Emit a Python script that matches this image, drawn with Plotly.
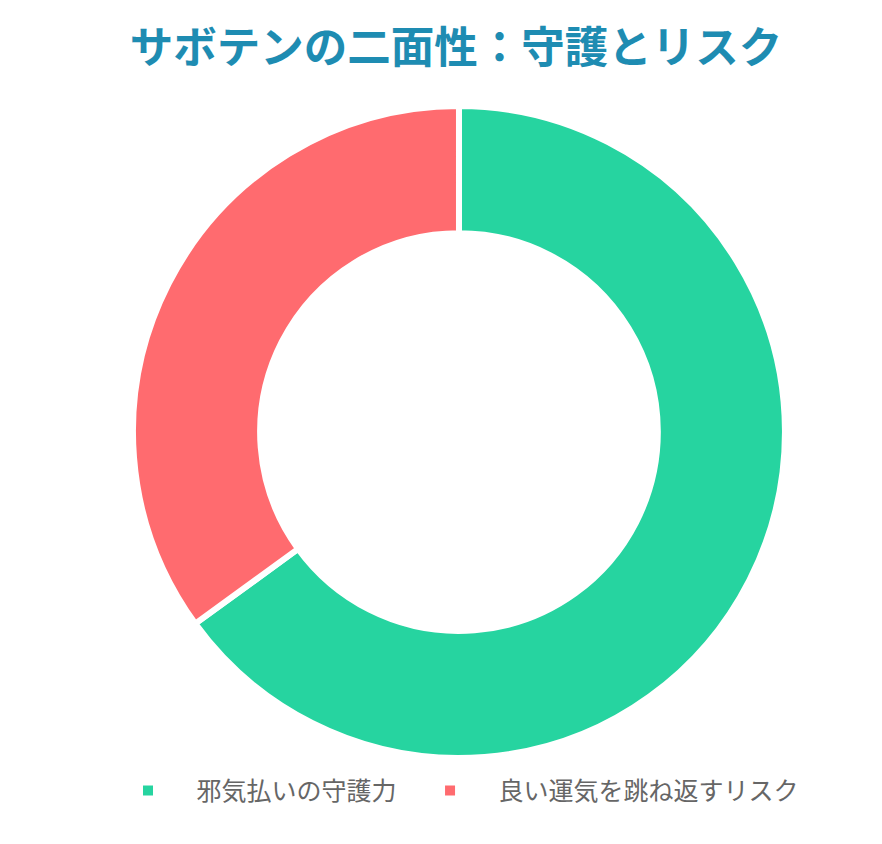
import plotly.graph_objects as go

labels = ["邪気払いの守護力", "良い運気を跳ね返すリスク"]
values = [65, 35]
colors = ["#26d4a0", "#ff6b6f"]

fig = go.Figure(go.Pie(
    labels=labels,
    values=values,
    hole=0.61,
    sort=False,
    direction="clockwise",
    rotation=0,
    domain=dict(x=[0.1247, 0.8990], y=[0, 1]),
    marker=dict(colors=colors, line=dict(color="#ffffff", width=6)),
    textinfo="none",
    hoverinfo="label+value",
))

fig.update_layout(
    width=882, height=844,
    paper_bgcolor="#ffffff",
    plot_bgcolor="#ffffff",
    margin=dict(l=20, r=20, t=98, b=94),
    title=dict(
        text="<b>サボテンの二面性：守護とリスク</b>",
        x=0.508, xanchor="center", y=0.953, yanchor="middle",
        font=dict(family="Noto Sans CJK JP", size=43.5, color="#1e8cb2"),
    ),
    showlegend=True,
    legend=dict(
        orientation="h", x=0.5036, xanchor="center", y=-0.015, yanchor="top",
        font=dict(family="Noto Sans CJK JP", size=25, color="#666666"),
        itemsizing="constant", itemwidth=87,
    ),
)

fig.write_html("out.html")
